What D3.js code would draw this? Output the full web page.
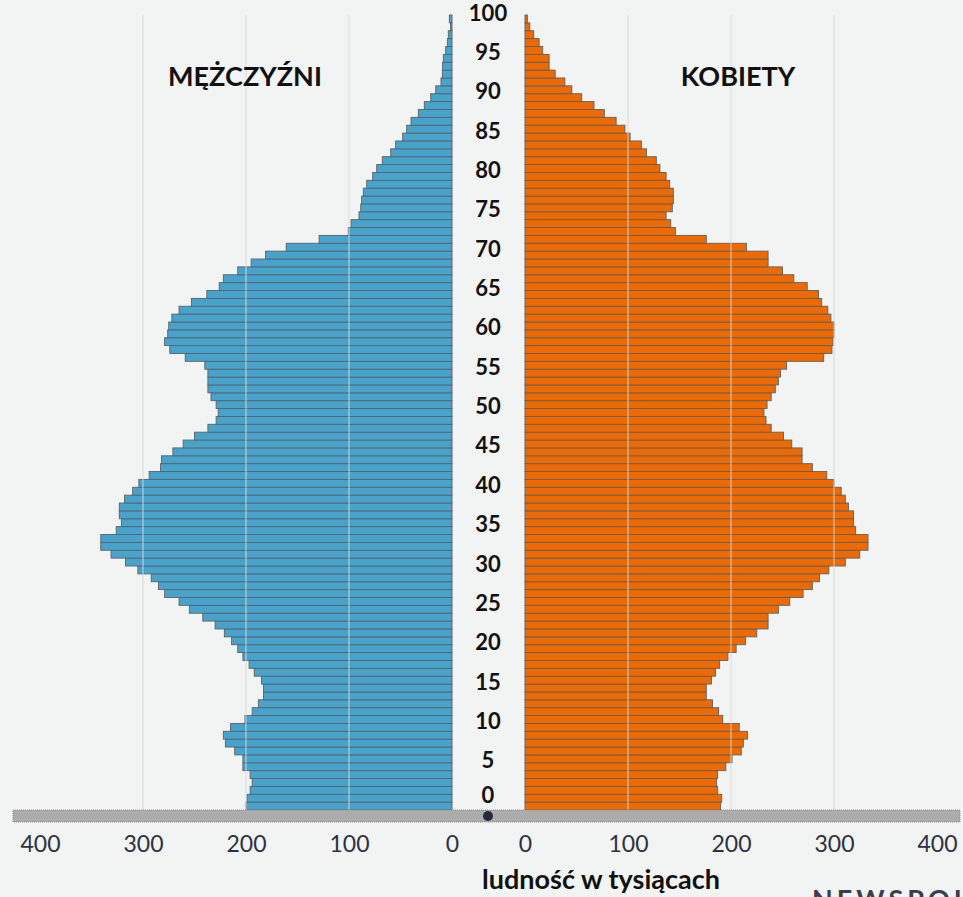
<!DOCTYPE html>
<html>
<head>
<meta charset="utf-8">
<script src="https://cdn.jsdelivr.net/npm/d3@7"></script>
<style>
  html, body { margin: 0; padding: 0; background: #f2f3f3; }
  svg { display: block; font-family: Lato, "Open Sans", sans-serif; }
</style>
</head>
<body>
<svg id="chart" width="963" height="897"></svg>
<script>
// ---- data ----
const ages = [0,1,2,3,4,5,6,7,8,9,10,11,12,13,14,15,16,17,18,19,20,21,22,23,24,25,26,27,28,29,30,
  31,32,33,34,35,36,37,38,39,40,41,42,43,44,45,46,47,48,49,50,51,52,53,54,55,56,57,58,59,60,
  61,62,63,64,65,66,67,68,69,70,71,72,73,74,75,76,77,78,79,80,81,82,83,84,85,86,87,88,89,90,
  91,92,93,94,95,96,97,98,99,100];
const men = [200,199,196,194,196,203,203,211,220,222,215,201,194,188,183,183,185,192,197,203,
  208,214,221,230,242,255,265,279,285,292,305,317,331,341,341,326,321,323,323,318,
  310,304,294,283,282,271,261,250,237,229,227,229,234,237,237,237,240,259,274,279,
  276,275,272,265,253,238,226,222,208,195,181,161,129,100.7,98,90.3,88.6,87.7,86.1,82.8,
  77,73.1,67.7,59.5,54.7,47.9,44,39.8,32.7,26.9,20.7,15.8,10.7,9.4,9.1,8.4,6.1,4.5,3.6,1.5,2.6];
const women = [190,191,187,186,187,195,201,210,212,216,208,192,188,182,176,176,181,185,189,197,
  205,214,225,236,236,246,257,270,279,286,295,311,325,333,333,321,319,319,314,311,
  307,300,293,279,269,269,259,251,239,234,232,235,239,243,246,248,254,290,298,299,
  300,300,297,294,288,285,274,261,250,236,236,215,176,146,141.5,137,143,144,144,140.5,
  137,131,127.5,118,113,102,97,88.5,77,67,55,45.5,38.7,29.3,23.4,23.4,17.2,13.7,8.5,4.7,2.3];
const tickValues = [0,100,200,300,400];
const gridValues = [100,200,300];
const ageLabels = [0,5,10,15,20,25,30,35,40,45,50,55,60,65,70,75,80,85,90,95,100];
const titleMen = "MĘŻCZYŹNI";
const titleWomen = "KOBIETY";
const axisTitle = "ludność w tysiącach";
const brand = "NEWSPOINT";

// ---- layout ----
const svg = d3.select("#chart");
const W = 963, H = 897;
const yTop = 15, yBottom = 810;
const xL = d3.scaleLinear().domain([0, 400]).range([452, 40]);
const xR = d3.scaleLinear().domain([0, 400]).range([525, 937]);
const y = d3.scaleBand().domain(ages.slice().reverse()).range([yTop, yBottom]).padding(0);

svg.append("rect").attr("width", W).attr("height", H).attr("fill", "#f2f3f3");

const rows = ages.map((a, i) => ({ age: a, m: men[i], f: women[i] }));

// gridlines under bars (background part)
const gridG = svg.append("g");
gridValues.forEach(v => {
  gridG.append("line").attr("x1", xL(v)).attr("x2", xL(v)).attr("y1", yTop).attr("y2", yBottom)
    .attr("stroke", "#dcdddd").attr("stroke-width", 1);
  gridG.append("line").attr("x1", xR(v)).attr("x2", xR(v)).attr("y1", yTop).attr("y2", yBottom)
    .attr("stroke", "#dcdddd").attr("stroke-width", 1);
});

// bars
svg.append("g").selectAll("rect").data(rows).join("rect")
  .attr("x", d => xL(d.m)).attr("y", d => y(d.age))
  .attr("width", d => xL(0) - xL(d.m)).attr("height", y.bandwidth())
  .attr("fill", "#48a3cc").attr("stroke", "#5b6266").attr("stroke-width", 0.9);
svg.append("g").selectAll("rect").data(rows).join("rect")
  .attr("x", xR(0)).attr("y", d => y(d.age))
  .attr("width", d => xR(d.f) - xR(0)).attr("height", y.bandwidth())
  .attr("fill", "#ee6a00").attr("stroke", "#5b6266").attr("stroke-width", 0.9);

// gridlines over bars (lighter)
const gridTopG = svg.append("g");
gridValues.forEach(v => {
  const mx = xL(v), fx = xR(v);
  gridTopG.append("line").attr("x1", mx).attr("x2", mx).attr("y1", yTop).attr("y2", yBottom)
    .attr("stroke", "#e4e6e8").attr("stroke-opacity", 0.8).attr("stroke-width", 1);
  gridTopG.append("line").attr("x1", fx).attr("x2", fx).attr("y1", yTop).attr("y2", yBottom)
    .attr("stroke", "#e4e6e8").attr("stroke-opacity", 0.8).attr("stroke-width", 1);
});

// age labels
svg.append("g").selectAll("text").data(ageLabels).join("text")
  .attr("x", 488)
  .attr("y", a => y(a) + y.bandwidth() / 2 - (a === 0 ? 9 : 4))
  .attr("text-anchor", "middle").attr("dominant-baseline", "middle")
  .attr("font-size", 22).attr("font-weight", 700).attr("fill", "#111")
  .text(a => a);

// bottom scrollbar-like strip
svg.append("rect").attr("x", 13).attr("y", 810).attr("width", 947).attr("height", 12)
  .attr("fill", "#acacac").attr("stroke", "#8a8a8a").attr("stroke-width", 1)
  .attr("stroke-dasharray", "1,1");
svg.append("circle").attr("cx", 488).attr("cy", 816).attr("r", 5).attr("fill", "#262a3a");

// x axes tick labels
const axL = d3.axisBottom(xL).tickValues(tickValues).tickSize(0).tickPadding(0);
const axR = d3.axisBottom(xR).tickValues(tickValues).tickSize(0).tickPadding(0);
[axL, axR].forEach(ax => {
  const g = svg.append("g").attr("transform", "translate(0,836)").call(ax);
  g.select(".domain").remove();
  g.selectAll("text").attr("font-size", 23).attr("font-family", "Lato, sans-serif")
    .attr("fill", "#2e3140").attr("dy", "0.71em");
});

// titles
svg.append("text").attr("x", 245).attr("y", 86).attr("text-anchor", "middle")
  .attr("font-size", 27).attr("font-weight", 700).attr("fill", "#111").text(titleMen);
svg.append("text").attr("x", 738).attr("y", 86).attr("text-anchor", "middle")
  .attr("font-size", 27).attr("font-weight", 700).attr("fill", "#111").text(titleWomen);
svg.append("text").attr("x", 601).attr("y", 889).attr("text-anchor", "middle")
  .attr("font-size", 27).attr("font-weight", 700).attr("fill", "#111").text(axisTitle);
svg.append("text").attr("x", 812).attr("y", 909).attr("text-anchor", "start")
  .attr("font-size", 27).attr("font-weight", 700).attr("letter-spacing", 4)
  .attr("fill", "#3b3f4c").text(brand);
</script>
</body>
</html>
